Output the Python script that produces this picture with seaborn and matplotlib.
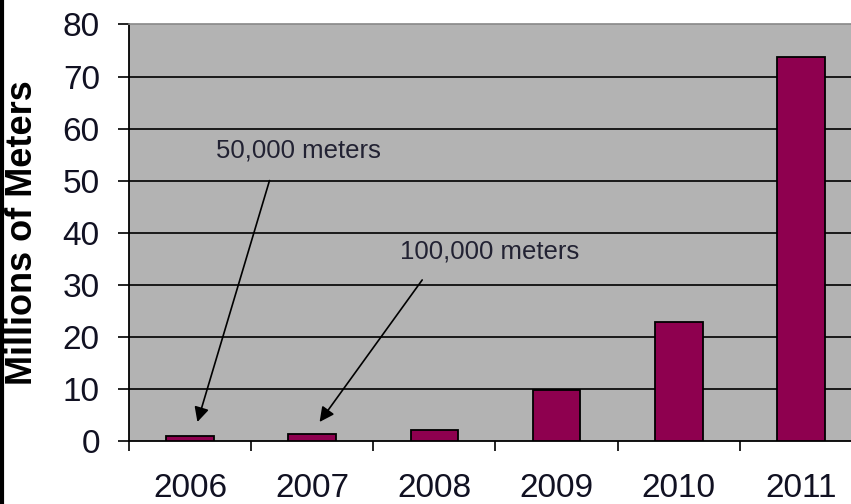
import matplotlib
matplotlib.use("Agg")
import matplotlib.pyplot as plt
from matplotlib.lines import Line2D
import numpy as np
import pandas as pd
import seaborn as sns

# --- data ---
years = ["2006", "2007", "2008", "2009", "2010", "2011"]
meters_millions = [0.9, 1.3, 2.0, 9.8, 22.8, 73.7]
y_ticks = [0, 10, 20, 30, 40, 50, 60, 70, 80]

note_labels = ["50,000 meters", "100,000 meters"]
note_text_xy = [(0.89, 55.7), (2.45, 36.3)]
note_arrow_start = [(0.65, 50.0), (1.90, 30.9)]
note_arrow_tip = [(0.06, 3.6), (1.06, 3.6)]

plt.rcParams['font.family'] = ['Liberation Sans', 'DejaVu Sans']

df = pd.DataFrame({"year": years, "value": meters_millions})

fig = plt.figure(figsize=(8.51, 5.04), dpi=100)
ax = fig.add_axes([0.1516, 0.1256, 0.8613, 0.8258])
ax.set_facecolor('#b3b3b3')

sns.barplot(data=df, x="year", y="value", color='#8e004f', width=0.39,
            edgecolor='black', linewidth=1.3, saturation=1, ax=ax, zorder=3)

ax.set_xlim(-0.5, len(years) - 0.5)
ax.set_ylim(0, 80)

# horizontal grid lines
for v in y_ticks[1:-1]:
    ax.axhline(v, color='black', lw=1.2, zorder=1)

# y axis
ax.set_yticks(y_ticks)
ax.set_yticklabels([str(t) for t in y_ticks], fontsize=24, color='#111122')
ax.tick_params(axis='y', length=8, width=1.2, pad=13, direction='out')
ax.set_ylabel("Millions of Meters", fontsize=26, fontweight='bold')
ax.yaxis.set_label_coords(-0.122, 0.5)

# x axis: ticks at category boundaries, labels at centers
ax.set_xticks(np.arange(-0.5, len(years), 1.0))
ax.set_xticklabels([])
ax.tick_params(axis='x', which='major', length=7, width=1.2, direction='out')
ax.set_xticks(np.arange(len(years)), minor=True)
ax.set_xticklabels(years, minor=True, fontsize=24, color='#111122')
ax.tick_params(axis='x', which='minor', length=0, pad=23)
ax.set_xlabel("")

for side in ['left', 'bottom']:
    ax.spines[side].set_color('black')
    ax.spines[side].set_linewidth(1.3)
ax.spines['top'].set_color('#888888')
ax.spines['top'].set_linewidth(1.2)
ax.spines['right'].set_visible(False)

# annotations
for label, txy, start, tip in zip(note_labels, note_text_xy, note_arrow_start, note_arrow_tip):
    ax.text(txy[0], txy[1], label, fontsize=18.5, color='#222233',
            ha='center', va='center', zorder=4)
    ax.annotate('', xy=tip, xytext=start,
                arrowprops=dict(arrowstyle='-|>', color='black', lw=1.2,
                                mutation_scale=22, shrinkA=0, shrinkB=0),
                zorder=4)

# dark border on the left edge of the image
fig.add_artist(Line2D([0.002, 0.002], [0, 1], color='black', lw=3))

fig.savefig("out.png", dpi=100)
